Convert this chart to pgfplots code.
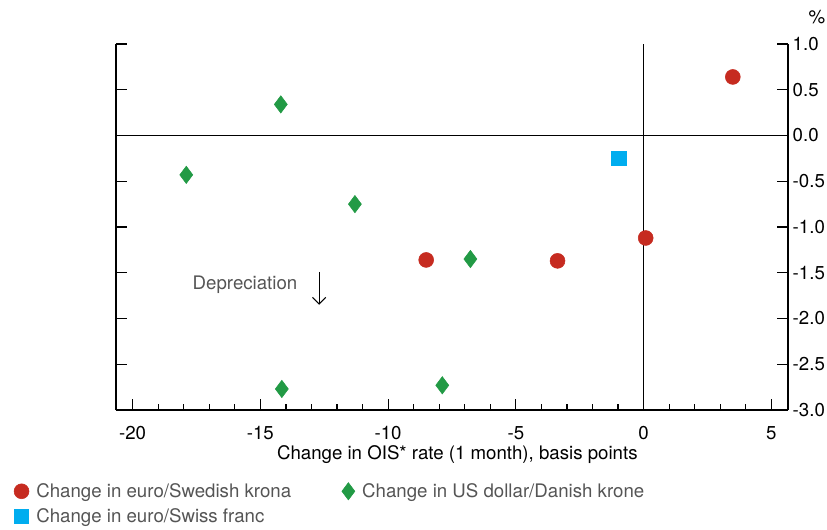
\documentclass[border=0pt]{standalone}
\usepackage{fontspec}
\setmainfont{TeX Gyre Heros}
\usepackage{pgfplots}
\pgfplotsset{compat=1.18}
\usetikzlibrary{arrows.meta}
\definecolor{sekred}{HTML}{C62B20}
\definecolor{chfblue}{HTML}{00ADEF}
\definecolor{dkkgreen}{HTML}{229A45}
\definecolor{txtgrey}{HTML}{555555}
\newcommand{\chartfont}{\fontsize{14}{16.8}\selectfont}
\begin{document}
\begin{tikzpicture}
\begin{axis}[
  scale only axis,
  width=504pt, height=274.5pt,
  xmin=-20.65, xmax=5.65,
  ymin=-3, ymax=1,
  clip=false,
  axis x line*=bottom,
  axis y line*=box,
  axis line style={black, line width=0.9pt},
  tick align=inside,
  xtick={-20,-15,...,5},
  minor x tick num=4,
  ytick={-3,-2.5,...,1},
  ytick pos=both,
  yticklabel pos=right,
  major tick length=8.5pt,
  minor tick length=4.5pt,
  every tick/.style={black, line width=0.9pt},
  font=\chartfont,
  tick label style={font=\chartfont},
  /pgf/number format/assume math mode=true,
  yticklabel style={/pgf/number format/.cd, fixed, fixed zerofill, precision=1},
  xticklabel style={yshift=-9pt},
  xlabel={Change in OIS* rate (1 month), basis points},
  xlabel style={yshift=3pt, xshift=4pt},
  legend style={at={(-0.158,-0.185)}, anchor=north west, draw=none, fill=none,
    font=\chartfont, text=txtgrey, legend columns=2,
    /tikz/every odd column/.append style={column sep=3.5pt},
    /tikz/every even column/.append style={column sep=36pt},
    row sep=3pt},
  legend cell align=left,
]
\draw[line width=1pt] (axis cs:-20.65,0) -- (axis cs:5.65,0);
\draw[line width=1pt] (axis cs:0,-3) -- (axis cs:0,1);

\addplot[only marks, mark=*, mark size=5.6pt, color=sekred] coordinates {
  (3.49,0.64) (-8.51,-1.36) (-3.37,-1.37) (0.08,-1.12)
};
\addlegendentry{Change in euro/Swedish krona}
\addplot[only marks, mark=diamond*, mark size=6.5pt, color=dkkgreen] coordinates {
  (-14.2,0.34) (-17.9,-0.43) (-11.3,-0.75) (-6.78,-1.35) (-14.16,-2.77) (-7.88,-2.73)
};
\addlegendentry{Change in US dollar/Danish krone}
\addplot[only marks, mark=square*, mark size=5.4pt, color=chfblue] coordinates {
  (-0.98,-0.25)
};
\addlegendentry{Change in euro/Swiss franc}

\node[text=txtgrey, font=\chartfont] at (axis cs:-15.6,-1.63) {Depreciation};
\draw[line width=0.8pt, -{Straight Barb[length=5pt, width=10pt]}] (axis cs:-12.7,-1.49) -- (axis cs:-12.7,-1.85);
\node[font=\chartfont] at (rel axis cs:1.043,1.074) {\%};
\end{axis}
\pgfresetboundingbox
\path (-87pt,-89.25pt) rectangle (533.25pt,307.5pt);
\end{tikzpicture}
\end{document}
